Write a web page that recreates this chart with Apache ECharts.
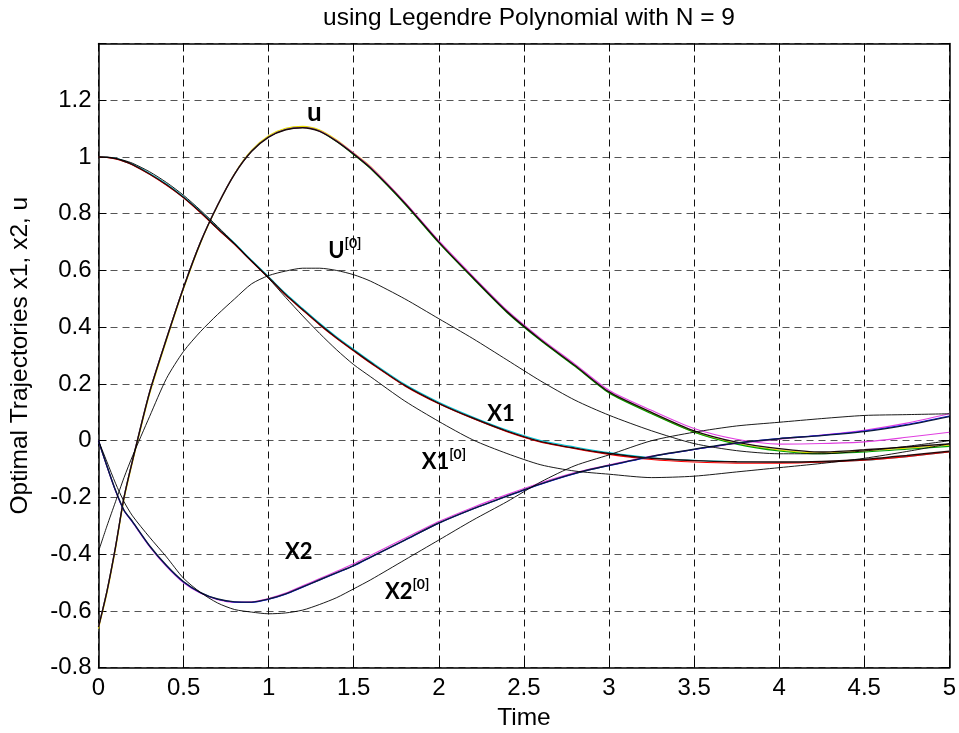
<!DOCTYPE html>
<html>
<head>
<meta charset="utf-8">
<script src="https://cdn.jsdelivr.net/npm/echarts@6/dist/echarts.min.js"></script>
<style>html,body{margin:0;padding:0;background:#fff;}#c{width:959px;height:733px;}</style>
</head>
<body>
<div id="c"></div>
<script>
// ---- data ----
const TITLE = 'using Legendre Polynomial with N = 9';
const X_NAME = 'Time';
const Y_NAME = 'Optimal Trajectories x1, x2, u';
const X_TICKS = [0, 0.5, 1, 1.5, 2, 2.5, 3, 3.5, 4, 4.5, 5];
const Y_TICKS = [-0.8, -0.6, -0.4, -0.2, 0, 0.2, 0.4, 0.6, 0.8, 1, 1.2];

const T = [0,0.05,0.1,0.15,0.2, 0.3,0.4,0.5,0.6,0.7,0.8,0.9,1.0,1.1,1.2,1.3,1.4,1.5,1.6, 1.8,2.0,2.2,2.4,2.6,2.8,3.0, 3.25,3.5,3.75,4.0,4.25,4.5,4.75,5.0];

// final (converged) trajectories - black
const U_FINAL  = [-0.657,-0.53,-0.375,-0.20,-0.07, 0.17,0.36,0.54,0.70,0.83,0.94,1.02,1.07,1.096,1.103,1.09,1.055,1.01,0.96, 0.837,0.70,0.575,0.455,0.355,0.265,0.172, 0.10,0.035,-0.005,-0.028,-0.04,-0.032,-0.022,-0.011];
const X1_FINAL = [1.0,0.999,0.994,0.985,0.973, 0.94,0.902,0.857,0.805,0.748,0.693,0.633,0.575,0.515,0.462,0.41,0.362,0.318,0.275, 0.195,0.132,0.08,0.034,-0.003,-0.026,-0.045, -0.062,-0.07,-0.074,-0.075,-0.073,-0.066,-0.052,-0.037];
const X2_FINAL = [0.0,-0.09,-0.175,-0.245,-0.285, -0.37,-0.44,-0.497,-0.535,-0.558,-0.568,-0.569,-0.558,-0.54,-0.515,-0.49,-0.465,-0.44,-0.41, -0.35,-0.29,-0.24,-0.195,-0.152,-0.115,-0.087, -0.055,-0.03,-0.008,0.007,0.018,0.032,0.055,0.085];

// initial guesses U[0], X1[0], X2[0] - black
const U_INIT  = [-0.39,-0.3,-0.215,-0.13,-0.054, 0.085,0.22,0.315,0.385,0.445,0.5,0.553,0.582,0.598,0.608,0.608,0.6,0.585,0.562, 0.5,0.43,0.36,0.285,0.21,0.143,0.09, 0.035,-0.01,-0.035,-0.046,-0.046,-0.036,-0.02,0.0];
const X1_INIT = [1.0,0.999,0.995,0.988,0.978, 0.948,0.91,0.865,0.812,0.755,0.695,0.633,0.572,0.505,0.44,0.378,0.32,0.268,0.225, 0.14,0.068,0.003,-0.045,-0.085,-0.107,-0.118, -0.13,-0.125,-0.11,-0.095,-0.08,-0.062,-0.038,-0.011];
const X2_INIT = [0.0,-0.075,-0.15,-0.215,-0.265, -0.34,-0.41,-0.485,-0.535,-0.572,-0.595,-0.604,-0.61,-0.607,-0.597,-0.577,-0.553,-0.522,-0.49, -0.42,-0.35,-0.28,-0.215,-0.145,-0.088,-0.05, 0.0,0.03,0.052,0.065,0.078,0.089,0.092,0.095];

// intermediate iterations (coloured, mostly hidden under the black lines)
const U_ITER_Y  = [-0.662,-0.537,-0.382,-0.207,-0.076,0.163,0.354,0.535,0.697,0.829,0.942,1.024,1.075,1.101,1.108,1.095,1.06,1.014,0.966,0.84,0.702,0.576,0.456,0.355,0.264,0.17,0.097,0.031,-0.01,-0.033,-0.043,-0.036,-0.026,-0.016];
const U_ITER_G  = [-0.655,-0.528,-0.373,-0.198,-0.068,0.171,0.361,0.541,0.701,0.831,0.941,1.021,1.071,1.097,1.104,1.091,1.054,1.008,0.958,0.834,0.697,0.572,0.452,0.352,0.262,0.168,0.095,0.03,-0.012,-0.036,-0.046,-0.04,-0.03,-0.02];
const U_ITER_M  = [-0.656,-0.529,-0.374,-0.199,-0.069,0.171,0.361,0.541,0.701,0.831,0.941,1.021,1.071,1.097,1.104,1.092,1.057,1.013,0.964,0.841,0.705,0.58,0.46,0.36,0.27,0.178,0.107,0.043,0.005,-0.012,-0.01,-0.004,0.012,0.03];
const X1_ITER_C = [1.0,0.999,0.995,0.987,0.975,0.943,0.905,0.86,0.808,0.751,0.696,0.636,0.578,0.519,0.466,0.414,0.366,0.322,0.279,0.199,0.136,0.084,0.038,0.001,-0.022,-0.042,-0.06,-0.069,-0.074,-0.076,-0.075,-0.069,-0.056,-0.04];
const X1_ITER_R = [1.0,0.998,0.993,0.984,0.972,0.939,0.9,0.856,0.803,0.746,0.691,0.631,0.573,0.513,0.46,0.408,0.36,0.316,0.273,0.193,0.13,0.078,0.032,-0.005,-0.028,-0.048,-0.066,-0.075,-0.079,-0.079,-0.076,-0.069,-0.056,-0.04];
const X2_ITER_M = [0.0,-0.092,-0.177,-0.247,-0.288,-0.373,-0.444,-0.501,-0.538,-0.56,-0.569,-0.568,-0.556,-0.537,-0.511,-0.486,-0.46,-0.434,-0.404,-0.344,-0.285,-0.235,-0.19,-0.148,-0.112,-0.085,-0.054,-0.031,-0.01,0.005,0.02,0.037,0.062,0.095];
const X2_ITER_B = [0.0,-0.09,-0.176,-0.246,-0.286,-0.371,-0.441,-0.498,-0.536,-0.559,-0.569,-0.57,-0.559,-0.541,-0.516,-0.491,-0.466,-0.441,-0.411,-0.351,-0.291,-0.241,-0.196,-0.153,-0.116,-0.088,-0.056,-0.031,-0.008,0.008,0.019,0.034,0.057,0.087];

// curve annotations: text, superscript, anchor (t, value) at left/middle of text
const ANN_TEXT = ['u', 'U', 'X1', 'X1', 'X2', 'X2'];
const ANN_SUP  = ['', '[0]', '', '[0]', '', '[0]'];
const ANN_T    = [1.225, 1.35, 2.284, 1.899, 1.096, 1.683];
const ANN_V    = [1.155, 0.668, 0.096, -0.075, -0.393, -0.534];
const ANN_SIZE = [26, 22, 22, 22, 22, 22];

// ---- chart ----
const chart = echarts.init(document.getElementById('c'), null, {renderer: 'canvas'});
const FONT = '"Liberation Sans", Arial, Helvetica, sans-serif';
const pair = arr => T.map((t, i) => [t, arr[i]]);
function line(name, arr, color, w) {
  return {name, type: 'line', data: pair(arr), showSymbol: false, symbol: 'none',
    smooth: 0.25, lineStyle: {color, width: w}, z: 3, silent: true};
}
const fmt = v => { const r = Math.round(v * 10) / 10; return (Math.abs(r) < 1e-9 ? 0 : r).toString(); };

const gridSplit = c => ({show: true, lineStyle: {color: c, width: 1, type: [7, 5]}});
chart.setOption({
  animation: false,
  backgroundColor: '#fff',
  title: {text: TITLE, left: 524, top: 1, textAlign: 'center',
    textStyle: {fontFamily: FONT, fontSize: 24.5, fontWeight: 'normal', color: '#000'}},
  grid: {left: 98.5, right: 9.7, top: 43.5, bottom: 65.3, containLabel: false, outerBoundsMode: 'none'},
  xAxis: [{
    type: 'value', min: 0, max: 5, interval: 0.5,
    name: X_NAME, nameLocation: 'middle', nameGap: 38,
    nameTextStyle: {fontFamily: FONT, fontSize: 24.5, color: '#000'},
    axisLine: {show: true, onZero: false, lineStyle: {color: '#000', width: 1.5}},
    axisTick: {show: true, inside: true, length: 8, lineStyle: {color: '#000'}},
    axisLabel: {fontFamily: FONT, fontSize: 24, color: '#000', margin: 9,
      formatter: v => X_TICKS.some(x => Math.abs(x - v) < 1e-9) ? fmt(v) : ''},
    splitLine: gridSplit('#111')
  }, {
    type: 'value', min: 0, max: 5, interval: 0.5, position: 'top',
    axisLine: {show: true, onZero: false, lineStyle: {color: '#000', width: 1.5}},
    axisTick: {show: true, inside: true, length: 8, lineStyle: {color: '#000'}},
    axisLabel: {show: false}, splitLine: {show: false}
  }],
  yAxis: [{
    type: 'value', min: -0.8, max: 1.4, interval: 0.2,
    name: Y_NAME, nameLocation: 'middle', nameGap: 66,
    nameTextStyle: {fontFamily: FONT, fontSize: 24.5, color: '#000'},
    axisLine: {show: true, onZero: false, lineStyle: {color: '#000', width: 1.5}},
    axisTick: {show: true, inside: true, length: 8, lineStyle: {color: '#000'}},
    axisLabel: {fontFamily: FONT, fontSize: 24, color: '#000', margin: 7,
      formatter: v => Y_TICKS.some(y => Math.abs(y - v) < 1e-9) ? fmt(v) : ''},
    splitLine: gridSplit('#555')
  }, {
    type: 'value', min: -0.8, max: 1.4, interval: 0.2, position: 'right',
    axisLine: {show: true, onZero: false, lineStyle: {color: '#000', width: 1.5}},
    axisTick: {show: true, inside: true, length: 8, lineStyle: {color: '#000'}},
    axisLabel: {show: false}, splitLine: {show: false}
  }],
  series: [
    line('u iter (y)', U_ITER_Y, '#e6d800', 1.1),
    line('u iter (g)', U_ITER_G, '#00a000', 1.1),
    line('u iter (m)', U_ITER_M, '#e040e0', 1.1),
    line('x1 iter (c)', X1_ITER_C, '#00c8d8', 1.1),
    line('x1 iter (r)', X1_ITER_R, '#ff0000', 1.1),
    line('x2 iter (m)', X2_ITER_M, '#e040e0', 1.1),
    line('x2 iter (b)', X2_ITER_B, '#1a1aff', 1.1),
    line('u', U_FINAL, '#1a0a0a', 1.4),
    line('x1', X1_FINAL, '#2a0808', 1.4),
    line('x2', X2_FINAL, '#0a1a3a', 1.4),
    line('U[0]', U_INIT, '#000', 0.9),
    line('X1[0]', X1_INIT, '#000', 0.9),
    line('X2[0]', X2_INIT, '#000', 0.9)
  ]
});

// annotations positioned through the chart's own coordinate conversion
const bold = '"Lato", "Open Sans", "DejaVu Sans", sans-serif';
const graphics = ANN_TEXT.map((txt, i) => {
  const p = chart.convertToPixel({xAxisIndex: 0, yAxisIndex: 0}, [ANN_T[i], ANN_V[i]]);
  const s = ANN_SIZE[i];
  return {
    type: 'text', x: p[0], y: p[1], z: 10, silent: true,
    style: {
      text: ANN_SUP[i] ? '{b|' + txt + '}{s|' + ANN_SUP[i] + '}' : '{b|' + txt + '}',
      textAlign: 'left', textVerticalAlign: 'middle',
      rich: {
        b: {fontFamily: bold, fontWeight: 'bold', fontSize: s, lineHeight: s + 8, fill: '#000', color: '#000'},
        s: {fontFamily: bold, fontWeight: 'bold', fontSize: Math.round(s * 0.65), lineHeight: Math.round(s * 0.65),
            verticalAlign: 'top', fill: '#000', color: '#000'}
      }
    }
  };
});
chart.setOption({graphic: graphics});
</script>
</body>
</html>
